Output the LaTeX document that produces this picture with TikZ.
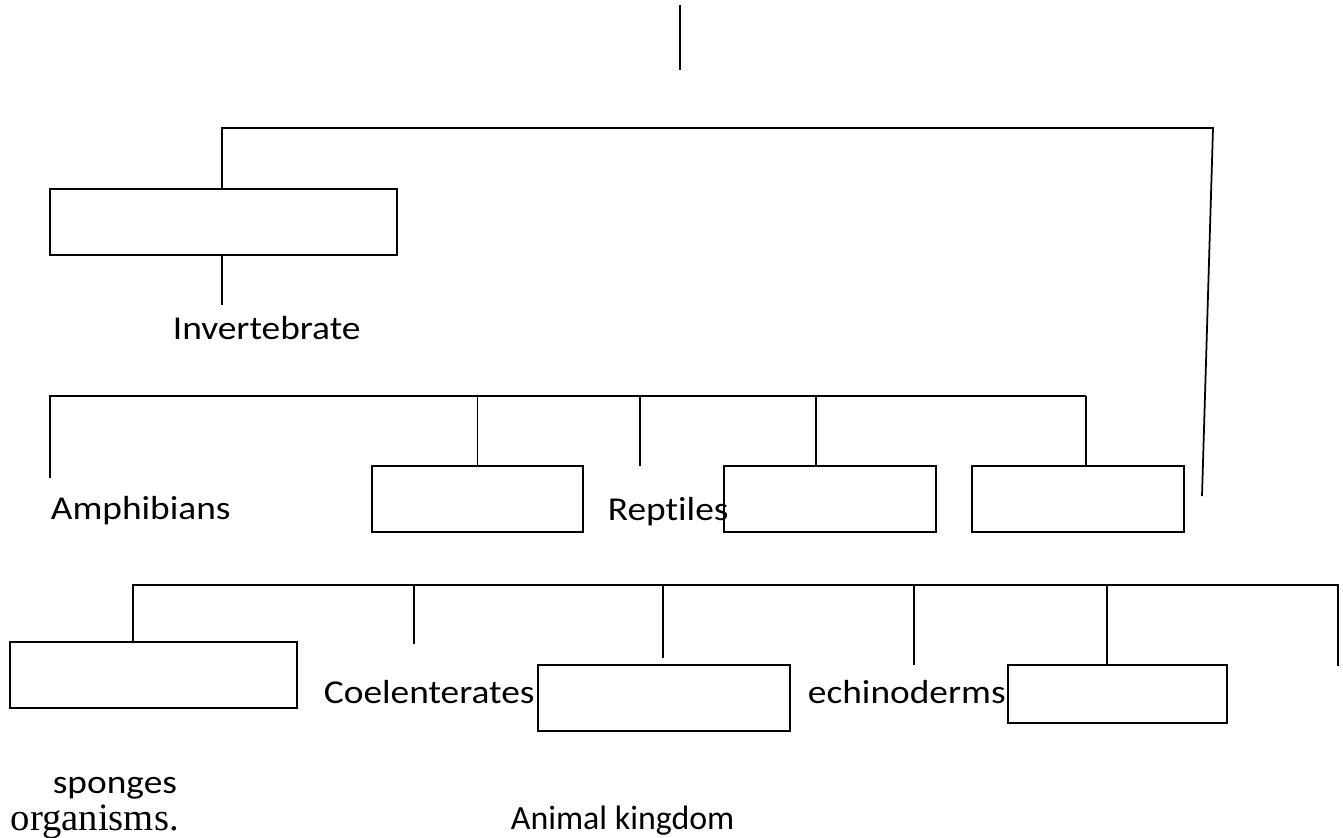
\documentclass[tikz,border=0pt]{standalone}
\usepackage{fontspec}
\setmainfont[FakeStretch=1.12, Ligatures={NoCommon}]{Carlito}
\newfontfamily\plainface{Carlito}
\newfontfamily\oldserif{Liberation Serif}

\begin{document}
\begin{tikzpicture}[
        x=0.02cm, y=-0.02cm,
        every path/.style={line width=1pt},
        box/.style={draw, rectangle, inner sep=0pt, minimum height=1.32cm},
        label/.style={anchor=base west, inner sep=0pt, font=\fontsize{19}{22}\selectfont}
      ]
      \useasboundingbox (0,0) rectangle (1343,838);

      % boxes
      \node[box, minimum width=6.94cm] (vert) at (223.5,222) {};
      \node[box, minimum width=4.22cm] (fish) at (477.5,499) {};
      \node[box, minimum width=4.24cm] (bird) at (830,499) {};
      \node[box, minimum width=4.24cm] (mammal) at (1078,499) {};
      \node[box, minimum width=5.74cm] (protozoa) at (153.5,675) {};
      \node[box, minimum width=5.04cm] (worms) at (664,698) {};
      \node[box, minimum width=4.38cm, minimum height=1.16cm] (molluscs) at (1117.5,694) {};

      % texts
      \node[label] (invert) at (172,339) {Invertebrate};
      \node[label] (amph) at (50,519) {Amphibians};
      \node[label] (rept) at (607,520) {Reptiles};
      \node[label] (coel) at (323,703) {Coelenterates};
      \node[label] (echino) at (807,703) {echinoderms};
      \node[label] (spong) at (52,793) {sponges};
      \node[label, font=\oldserif\fontsize{22}{26}\selectfont] (organ) at (10,830) {organisms.};
      \node[label, font=\plainface\fontsize{19.3}{22}\selectfont] (kingdom) at (510,829) {Animal kingdom};

      % free ends and junctions
      \coordinate (stemtop) at (680,5);
      \coordinate (stembot) at (680,70);
      \coordinate (rtop) at (1213,128);
      \coordinate (rbot) at (1202,496);
      \coordinate (vertend) at (222,305);
      \coordinate (amphend) at (50,478);
      \coordinate (reptend) at (640,466);
      \coordinate (bird-j) at (816,396);
      \coordinate (mammal-j) at (1086,396);
      \coordinate (protozoa-j) at (133,585);
      \coordinate (coelend) at (414,644);
      \coordinate (wormsend) at (663,658);
      \coordinate (echinoend) at (914,665);
      \coordinate (molluscs-j) at (1107,585);
      \coordinate (lastend) at (1338,666);

      % top stem
      \draw (stemtop) -- (stembot);

      % first bracket
      \draw (vertend |- vert.north) |- (rtop) -- (rbot);
      \draw (vertend |- vert.south) -- (vertend);

      % second bracket
      \draw (amphend) |- (mammal-j);
      \draw (fish.north) -- (fish.north |- mammal-j);
      \draw (reptend) -- (reptend |- mammal-j);
      \draw (bird-j) -- (bird-j |- bird.north);
      \draw (mammal-j) -- (mammal-j |- mammal.north);

      % third bracket
      \draw (protozoa-j |- protozoa.north) |- (lastend |- protozoa-j) -- (lastend);
      \draw (coelend) -- (coelend |- protozoa-j);
      \draw (wormsend) -- (wormsend |- protozoa-j);
      \draw (echinoend) -- (echinoend |- protozoa-j);
      \draw (molluscs-j) -- (molluscs-j |- molluscs.north);

\end{tikzpicture}
\end{document}
